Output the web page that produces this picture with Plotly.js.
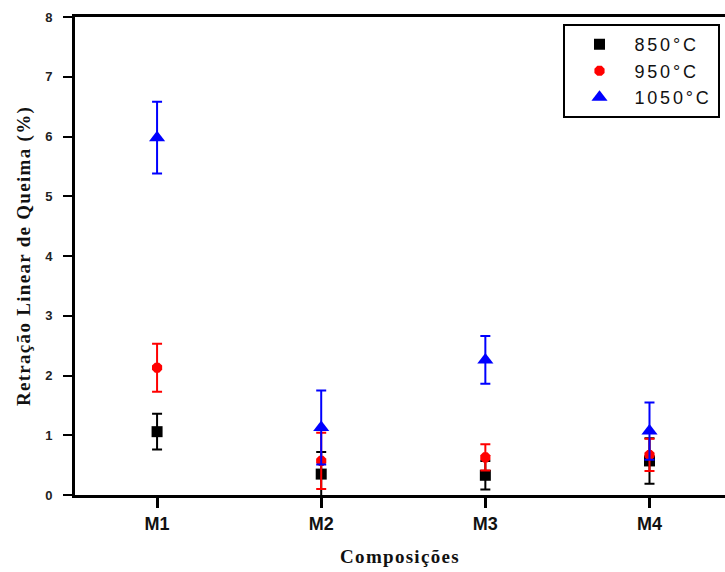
<!DOCTYPE html>
<html>
<head>
<meta charset="utf-8">
<script src="https://cdn.plot.ly/plotly-3.0.1.min.js"></script>
<style>
html,body{margin:0;padding:0;overflow:hidden;background:#fff}
.legendtext{letter-spacing:2.8px}
.xtitle,.ytitle{letter-spacing:1.3px}
</style>
</head>
<body>
<div id="chart" style="width:725px;height:572px"></div>
<script>
const categories = ["M1", "M2", "M3", "M4"];
const xPos = [1, 2, 3, 4];
const seriesNames = ["850°C", "950°C", "1050°C"];
const v850 = [1.06, 0.35, 0.33, 0.57];
const e850 = [0.30, 0.37, 0.24, 0.38];
const v950 = [2.13, 0.57, 0.63, 0.67];
const e950 = [0.40, 0.47, 0.22, 0.27];
const v1050 = [5.98, 1.13, 2.26, 1.07];
const e1050 = [0.60, 0.62, 0.40, 0.48];
const yTicks = [0, 1, 2, 3, 4, 5, 6, 7, 8];

function mk(name, vals, errs, color, symbol, size) {
  return {
    type: "scatter", mode: "markers", name: name, legendgroup: name,
    x: xPos, y: vals,
    marker: {color: color, symbol: symbol, size: size},
    error_y: {type: "data", array: errs, visible: true, color: color, thickness: 2, width: 5}
  };
}
const data = [
  mk(seriesNames[0], v850, e850, "#000000", "square", 11),
  mk(seriesNames[1], v950, e950, "#ff0000", "octagon", 11),
  mk(seriesNames[2], v1050, e1050, "#0000ff", "triangle-up", 14)
];
const layout = {
  width: 725, height: 572,
  margin: {l: 75, r: 0, t: 17, b: 77},
  paper_bgcolor: "#fff", plot_bgcolor: "#fff",
  showlegend: true,
  legend: {
    x: 0.75, y: 0.985, xanchor: "left", yanchor: "top",
    bgcolor: "#fff", bordercolor: "#000", borderwidth: 2,
    font: {family: "Liberation Sans, Arial, sans-serif", size: 18, color: "#111"},
    itemwidth: 60, tracegroupgap: 0
  },
  xaxis: {
    range: [0.5, 4.46], tickmode: "array", tickvals: xPos, ticktext: categories,
    showgrid: false, zeroline: false,
    showline: true, linecolor: "#000", linewidth: 3, mirror: true,
    ticks: "outside", ticklen: 10, tickwidth: 3, tickcolor: "#000",
    tickfont: {family: "Liberation Sans, Arial, sans-serif", size: 18, color: "#111", weight: "bold"},
    title: {text: "Composições", font: {family: "Liberation Serif, Times New Roman, serif", size: 19, color: "#111", weight: "bold"}, standoff: 18}
  },
  yaxis: {
    range: [0, 8], tickmode: "array", tickvals: yTicks,
    showgrid: false, zeroline: false,
    showline: true, linecolor: "#000", linewidth: 3, mirror: false,
    ticks: "outside", ticklen: 9, tickwidth: 2, tickcolor: "#000",
    ticklabelstandoff: 8,
    tickfont: {family: "Liberation Sans, Arial, sans-serif", size: 13, color: "#222", weight: "bold"},
    title: {text: "Retração Linear de Queima (%)", font: {family: "Liberation Serif, Times New Roman, serif", size: 19, color: "#111", weight: "bold"}, standoff: 10}
  }
};
Plotly.newPlot("chart", data, layout, {displayModeBar: false, staticPlot: true});
</script>
</body>
</html>
